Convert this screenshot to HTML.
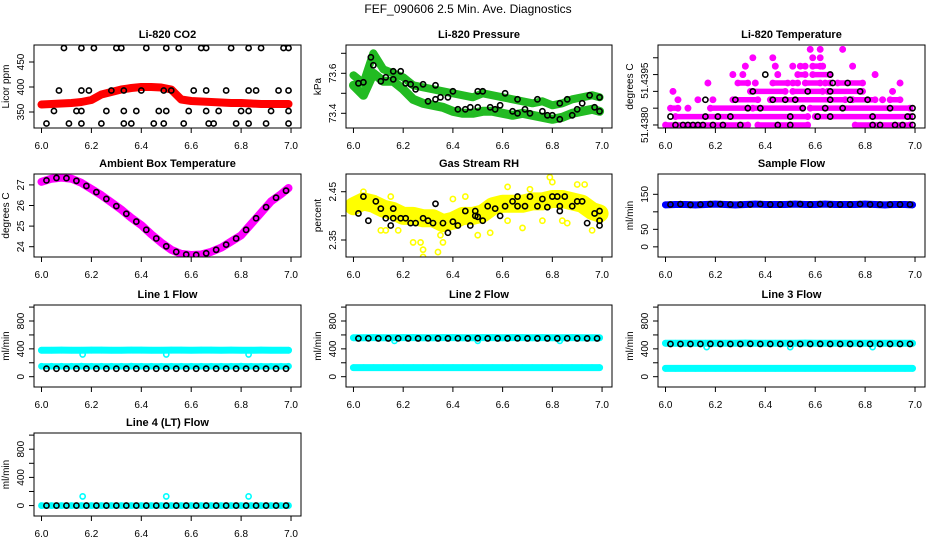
<!DOCTYPE html>
<html><head><meta charset="utf-8"><title>FEF_090606 Diagnostics</title>
<style>
html,body{margin:0;padding:0;background:#fff;}
svg{display:block;font-family:"Liberation Sans",sans-serif;}
</style></head>
<body>
<svg id="chart" width="936" height="540" viewBox="0 0 936 540" xmlns="http://www.w3.org/2000/svg">
<rect x="0" y="0" width="936" height="540" fill="#fff"/>
<text x="468" y="13" text-anchor="middle" font-size="12">FEF_090606  2.5 Min. Ave. Diagnostics</text>
</svg>
<script>
// ---------- data ----------
const tGrid = [6.00,6.04,6.08,6.12,6.16,6.20,6.24,6.28,6.32,6.36,6.40,6.44,6.48,6.52,6.56,6.60,6.64,6.68,6.72,6.76,6.80,6.84,6.88,6.92,6.96,6.99];
const tGrid2 = [6.02,6.06,6.10,6.14,6.18,6.22,6.26,6.30,6.34,6.38,6.42,6.46,6.50,6.54,6.58,6.62,6.66,6.70,6.74,6.78,6.82,6.86,6.90,6.94,6.98];
const xTicks = [6.0,6.2,6.4,6.6,6.8,7.0];
const xTickLabels = ["6.0","6.2","6.4","6.6","6.8","7.0"];

const co2Red = [365,366,367,368,370,374,385,390,395,398,400,400,399,395,375,372,371,370,369,368,368,367,366,366,366,366];
const co2BlackX = [6.09,6.16,6.21,6.30,6.32,6.42,6.50,6.55,6.64,6.66,6.76,6.83,6.88,6.97,6.99,
  6.07,6.16,6.19,6.28,6.33,6.40,6.49,6.52,6.61,6.66,6.74,6.83,6.86,6.95,6.99,
  6.05,6.14,6.16,6.26,6.33,6.38,6.47,6.50,6.59,6.66,6.71,6.80,6.83,6.92,6.99,
  6.02,6.11,6.16,6.24,6.33,6.36,6.45,6.49,6.57,6.67,6.69,6.78,6.83,6.90,6.99];
const co2BlackY = [478,478,478,478,478,478,478,478,478,478,478,478,478,478,478,
  393,393,393,393,393,393,393,393,393,393,393,393,393,393,393,
  352,352,352,352,352,352,352,352,352,352,352,352,352,352,352,
  327,327,327,327,327,327,327,327,327,327,327,327,327,327,327];

const pressUpper = [73.59,73.55,73.70,73.62,73.60,73.58,73.54,73.53,73.52,73.51,73.50,73.49,73.48,73.50,73.49,73.48,73.47,73.46,73.45,73.46,73.44,73.45,73.47,73.48,73.49,73.48];
const pressLower = [73.54,73.49,73.60,73.56,73.56,73.52,73.47,73.45,73.44,73.43,73.41,73.40,73.40,73.41,73.41,73.40,73.39,73.40,73.39,73.38,73.37,73.38,73.40,73.41,73.42,73.41];
const pressBlackX = [6.02,6.04,6.07,6.08,6.11,6.13,6.16,6.16,6.19,6.21,6.23,6.25,6.28,6.30,6.33,6.33,6.35,6.38,6.40,6.42,6.45,6.47,6.50,6.50,6.52,6.55,6.57,6.59,6.61,6.64,6.66,6.66,6.69,6.71,6.74,6.76,6.78,6.80,6.83,6.83,6.86,6.88,6.90,6.92,6.95,6.97,6.99,6.99];
const pressBlackY = [73.55,73.555,73.68,73.64,73.56,73.58,73.61,73.57,73.61,73.55,73.545,73.52,73.545,73.46,73.54,73.47,73.48,73.48,73.51,73.42,73.42,73.43,73.51,73.43,73.51,73.43,73.42,73.44,73.50,73.41,73.47,73.40,73.42,73.40,73.47,73.41,73.39,73.39,73.45,73.37,73.47,73.39,73.42,73.45,73.49,73.43,73.48,73.41];

const tempSegLevel = [0,0,0, 1,1, 2,2,2,2,2, 3,3,3,3,3,3,3,3, 4,4,4,4,4, 5,5,5,5,5,5,5,5,5, 6,6,6,6,6,6, 7,7,7,7,7,7,7, 8,8,8,8, 9,9,9];
const tempSegStart = [6.00,6.37,6.76, 6.04,6.60, 6.02,6.09,6.18,6.35,6.58, 6.05,6.13,6.19,6.27,6.42,6.75,6.87,6.90, 6.03,6.34,6.51,6.65,6.91, 6.17,6.29,6.36,6.43,6.51,6.56,6.64,6.69,6.94, 6.27,6.31,6.45,6.53,6.59,6.84, 6.32,6.44,6.51,6.54,6.59,6.63,6.75, 6.35,6.43,6.59,6.62, 6.58,6.62,6.71];
const tempSegEnd = [6.33,6.57,6.98, 6.57,6.98, 6.05,6.09,6.33,6.55,6.98, 6.05,6.13,6.19,6.37,6.72,6.84,6.87,6.94, 6.03,6.48,6.63,6.79,6.91, 6.17,6.33,6.36,6.49,6.53,6.62,6.66,6.79,6.94, 6.27,6.31,6.45,6.56,6.66,6.84, 6.32,6.44,6.51,6.56,6.62,6.63,6.75, 6.35,6.43,6.59,6.62, 6.58,6.62,6.71];
const tempBlackX = [6.04,6.07,6.09,6.11,6.13,6.15,6.19,6.23,6.30,6.45,6.50,6.83,6.86,6.92,6.95,6.99, 6.02,6.16,6.21,6.26,6.50,6.61,6.66,6.83,6.97,6.99, 6.33,6.38,6.55,6.64,6.71,6.90,6.99, 6.16,6.28,6.43,6.48,6.52,6.66,6.74,6.81, 6.35,6.57,6.66,6.78, 6.67,6.73, 6.40,6.66];
const tempBlackLevel = [0,0,0,0,0,0,0,0,0,0,0,0,0,0,0,0, 1,1,1,1,1,1,1,1,1,1, 2,2,2,2,2,2,2, 3,3,3,3,3,3,3,3, 4,4,4,4, 5,5, 6,6];
const tempBase = 51.4380, tempStep = 0.00025;

const ambMagenta = [27.15,27.3,27.35,27.3,27.1,26.8,26.5,26.15,25.8,25.4,25.05,24.6,24.2,23.85,23.65,23.6,23.62,23.75,23.95,24.25,24.55,25.1,25.65,26.2,26.55,26.85];
const ambBlack = [27.22,27.34,27.33,27.2,26.95,26.65,26.32,25.97,25.6,25.22,24.82,24.4,24.02,23.75,23.62,23.6,23.68,23.85,24.1,24.4,24.82,25.38,25.92,26.38,26.72];

const rhYellow = [2.42,2.43,2.425,2.415,2.41,2.40,2.40,2.395,2.395,2.385,2.39,2.40,2.40,2.405,2.42,2.425,2.425,2.425,2.43,2.43,2.435,2.435,2.43,2.425,2.41,2.405];
const rhOutX = [6.13,6.18,6.24,6.27,6.28,6.28,6.34,6.36,6.35,6.50,6.55,6.62,6.68,6.79,6.80,6.90,6.93,6.96,6.04,6.15,6.45,6.62,6.76,6.84,6.11,6.40,6.71,6.86];
const rhOutY = [2.37,2.37,2.345,2.345,2.33,2.315,2.325,2.345,2.36,2.36,2.365,2.39,2.375,2.48,2.47,2.465,2.465,2.37,2.45,2.44,2.44,2.46,2.39,2.39,2.37,2.435,2.455,2.385];
const rhBlackX = [6.02,6.04,6.06,6.09,6.11,6.13,6.15,6.16,6.16,6.19,6.21,6.23,6.25,6.28,6.30,6.32,6.33,6.36,6.38,6.40,6.42,6.45,6.47,6.49,6.49,6.50,6.52,6.54,6.57,6.59,6.61,6.64,6.66,6.66,6.69,6.71,6.74,6.76,6.78,6.80,6.82,6.83,6.83,6.85,6.88,6.90,6.92,6.94,6.97,6.99,6.99,6.99];
const rhBlackY = [2.405,2.44,2.39,2.43,2.415,2.395,2.38,2.395,2.415,2.395,2.395,2.385,2.385,2.395,2.39,2.385,2.425,2.385,2.365,2.388,2.38,2.41,2.38,2.41,2.40,2.398,2.39,2.42,2.415,2.40,2.42,2.43,2.42,2.44,2.42,2.44,2.42,2.435,2.418,2.44,2.44,2.42,2.41,2.44,2.42,2.43,2.43,2.385,2.405,2.41,2.38,2.39];

const sampleBlue = [120,121,121,120,121,122,121,120,121,122,121,121,121,122,121,121,122,121,121,121,122,121,120,121,121,120];
const sampleBlack = [121,122,120,121,122,122,121,121,121,122,121,121,122,122,121,122,121,121,121,122,121,121,121,121,121];

const line1Upper = [380,380,381,380,380,381,381,380,380,382,381,380,380,381,381,380,381,381,380,381,380,380,381,380,380,380];
const line1Lower = [150,150,150,150,151,150,150,150,150,151,150,150,150,150,150,150,150,150,150,150,151,150,150,150,150,150];
const line1Black = [115,115,115,115,116,115,115,115,116,115,115,115,116,115,115,115,116,115,115,115,116,115,115,115,115];
const line1DipX = [6.165,6.50,6.83];
const line1DipY = [320,320,320];

const line2Upper = [560,560,561,560,560,561,562,560,560,561,561,560,560,561,561,560,561,561,560,561,560,560,561,560,560,560];
const line2Lower = [130,130,130,130,130,130,130,130,130,130,130,130,130,130,130,130,130,130,130,130,130,130,130,130,130,130];
const line2Black = [550,551,550,550,551,550,550,551,550,550,551,550,552,550,550,550,551,550,550,550,550,551,550,550,550];
const line2DipX = [6.165,6.50,6.83];
const line2DipY = [515,515,515];

const line3Upper = [480,480,481,480,480,481,481,480,482,481,481,480,481,481,482,481,481,481,480,481,480,480,481,480,480,480];
const line3Lower = [120,120,120,120,120,120,120,120,120,120,120,120,120,120,120,120,120,120,120,120,120,120,120,120,120,120];
const line3Black = [470,470,470,470,471,470,470,470,472,470,470,470,471,470,470,471,470,470,470,470,470,470,470,470,470];
const line3DipX = [6.165,6.50,6.83];
const line3DipY = [425,425,425];

const line4Cyan = [0,0,0,0,0,0,0,0,0,0,0,0,0,0,0,0,0,0,0,0,0,0,0,0,0,0];
const line4Black = [0,0,0,0,0,0,0,0,0,0,0,0,0,0,0,0,0,0,0,0,0,0,0,0,0];
const line4OutX = [6.165,6.50,6.83];
const line4OutY = [130,130,130];

// axis limits & ticks
const co2Lim = [318,484], co2Ticks=[350,400,450], co2Labels=["350","400","450"];
const pressLim = [73.3265,73.7415], pressTicks=[73.4,73.5,73.6,73.7], pressLabels=["73.4","","73.6",""];
const tempLim = [51.43791,51.44038], tempTicks=[51.4380,51.4385,51.4390,51.4395,51.4400];
const ambLim = [23.5,27.53], ambTicks=[24,25,26,27], ambLabels=["24","25","26","27"];
const rhLim = [2.3148,2.4867], rhTicks=[2.35,2.40,2.45], rhLabels=["2.35","","2.45"];
const sampleLim = [-29,208], sampleTicks=[0,50,100,150], sampleLabels=["0","50","","150"];
const flowLim = [-148,1030], flowTicks=[0,200,400,600,800,1000], flowLabels=["0","","400","","800",""];

// ---------- drawing ----------
const NS="http://www.w3.org/2000/svg";
const svg=document.getElementById('chart');
const colL=[34,346,658], colR=[301,612,925], rowT=[45,174,305,433], rowB=[128,257,387,516];

function mk(tag,parent){const e=document.createElementNS(NS,tag);parent.appendChild(e);return e;}

function makePanel(col,row,title,ylab,lim,name){
  const L=colL[col],R=colR[col],T=rowT[row],B=rowB[row];
  const g=mk('g',svg);
  
  
  const p={g,L,R,T,B,
    x:v=>L+(R-L)*(v-5.97)/1.07,
    y:v=>B-(B-T)*(v-lim[0])/(lim[1]-lim[0])};
  const clip=mk('clipPath',g);clip.setAttribute('id','clip-'+name);
  const cr=mk('rect',clip);cr.setAttribute('x',L);cr.setAttribute('y',T);cr.setAttribute('width',R-L);cr.setAttribute('height',B-T);
  p.marks=mk('g',g);
  p.marks.setAttribute('clip-path','url(#clip-'+name+')');
  
  
  const t=mk('text',g);
  
  
  t.setAttribute('x',(L+R)/2);t.setAttribute('y',T-7);t.setAttribute('text-anchor','middle');
  t.setAttribute('font-size','11');t.setAttribute('font-weight','bold');t.textContent=title;
  const yl=mk('text',g);
  
  
  yl.setAttribute('transform','translate('+(L-25)+','+((T+B)/2)+') rotate(-90)');
  yl.setAttribute('text-anchor','middle');yl.setAttribute('font-size','10');yl.textContent=ylab;
  const xa=mk('g',g);
  
  
  const al=mk('line',xa);al.setAttribute('x1',p.x(6));al.setAttribute('x2',p.x(7));al.setAttribute('y1',B);al.setAttribute('y2',B);al.setAttribute('stroke','#000');
  xTicks.forEach((v,i)=>{
    const tk=mk('line',xa);tk.setAttribute('x1',p.x(v));tk.setAttribute('x2',p.x(v));tk.setAttribute('y1',B);tk.setAttribute('y2',B+5);tk.setAttribute('stroke','#000');
    const tl=mk('text',xa);
    
    
    tl.setAttribute('x',p.x(v));tl.setAttribute('y',B+21);tl.setAttribute('text-anchor','middle');tl.setAttribute('font-size','10');tl.textContent=xTickLabels[i];
  });
  const bx=mk('rect',g);
  
  
  bx.setAttribute('x',L);bx.setAttribute('y',T);bx.setAttribute('width',R-L);bx.setAttribute('height',B-T);bx.setAttribute('fill','none');bx.setAttribute('stroke','#000');
  return p;
}
function yAxis(p,ticks,labels,name){
  const ya=mk('g',p.g);
  
  
  const al=mk('line',ya);al.setAttribute('x1',p.L);al.setAttribute('x2',p.L);al.setAttribute('y1',p.y(ticks[0]));al.setAttribute('y2',p.y(ticks[ticks.length-1]));al.setAttribute('stroke','#000');
  ticks.forEach((v,i)=>{
    const tk=mk('line',ya);tk.setAttribute('x1',p.L-5);tk.setAttribute('x2',p.L);tk.setAttribute('y1',p.y(v));tk.setAttribute('y2',p.y(v));tk.setAttribute('stroke','#000');
    if(labels&&labels[i]){
      const tl=mk('text',ya);
      
      
      tl.setAttribute('transform','translate('+(p.L-10)+','+p.y(v)+') rotate(-90)');
      tl.setAttribute('text-anchor','middle');tl.setAttribute('font-size','10');tl.textContent=labels[i];
    }
  });
  return ya;
}
function dot(p,x,y,color,name,r,sw){
  const c=mk('circle',p.marks);
  
  
  c.setAttribute('cx',p.x(x));c.setAttribute('cy',p.y(y));c.setAttribute('r',r||2.6);
  c.setAttribute('fill','none');c.setAttribute('stroke',color);c.setAttribute('stroke-width',sw||1.6);
}
function band(p,xs,ys,color,width,name){
  const pl=mk('polyline',p.marks);
  
  
  pl.setAttribute('points',xs.map((x,i)=>p.x(x)+','+p.y(ys[i])).join(' '));
  pl.setAttribute('fill','none');pl.setAttribute('stroke',color);pl.setAttribute('stroke-width',width);
  pl.setAttribute('stroke-linejoin','round');pl.setAttribute('stroke-linecap','round');
  xs.forEach((x,i)=>dot(p,x,ys[i],color,name+'-point'));
}
function dots(p,xs,ys,color,name){xs.forEach((x,i)=>dot(p,x,ys[i],color,name));}

// CO2
let p=makePanel(0,0,'Li-820 CO2','Licor ppm',co2Lim,'co2');
yAxis(p,co2Ticks,co2Labels,'co2');
band(p,tGrid,co2Red,'#ff0000',8,'co2-red-series');
dots(p,co2BlackX,co2BlackY,'#000','co2-black-point');

// Pressure
p=makePanel(1,0,'Li-820 Pressure','kPa',pressLim,'pressure');
yAxis(p,pressTicks,pressLabels,'pressure');
band(p,tGrid,pressUpper,'#22bb22',8,'pressure-upper-series');
band(p,tGrid,pressLower,'#22bb22',9,'pressure-lower-series');
dots(p,pressBlackX,pressBlackY,'#000','pressure-black-point');

// Temperature
p=makePanel(2,0,'Li-820 Temperature','degrees C',tempLim,'li820-temp');
const ta=yAxis(p,tempTicks,null,'li820-temp');
[["51.4380",51.4380],["51.4395",51.43932]].forEach(a=>{
  const tl=mk('text',ta);
  
  
  tl.setAttribute('transform','translate('+(p.L-10)+','+p.y(a[1])+') rotate(-90)');
  tl.setAttribute('text-anchor','middle');tl.setAttribute('font-size','10');tl.textContent=a[0];
});
tempSegLevel.forEach((lv,i)=>{
  const v=tempBase+lv*tempStep;
  band(p,[tempSegStart[i],tempSegEnd[i]],[v,v],'#ff00ff',5.5,'li820-temp-magenta-run');
});
tempBlackX.forEach((x,i)=>dot(p,x,tempBase+tempBlackLevel[i]*tempStep,'#000','li820-temp-black-point'));

// Ambient
p=makePanel(0,1,'Ambient Box Temperature','degrees C',ambLim,'ambient');
yAxis(p,ambTicks,ambLabels,'ambient');
band(p,tGrid,ambMagenta,'#ff00ff',8,'ambient-magenta-series');
dots(p,tGrid2,ambBlack,'#000','ambient-black-point');

// RH
p=makePanel(1,1,'Gas Stream RH','percent',rhLim,'rh');
yAxis(p,rhTicks,rhLabels,'rh');
band(p,tGrid,rhYellow,'#ffff00',18,'rh-yellow-series');
dots(p,rhOutX,rhOutY,'#ffff00','rh-yellow-point');
dots(p,rhBlackX,rhBlackY,'#000','rh-black-point');

// Sample flow
p=makePanel(2,1,'Sample Flow','ml/min',sampleLim,'sample-flow');
yAxis(p,sampleTicks,sampleLabels,'sample-flow');
band(p,tGrid,sampleBlue,'#0000ff',7,'sample-flow-blue-series');
dots(p,tGrid2,sampleBlack,'#000','sample-flow-black-point');

// Line 1
p=makePanel(0,2,'Line 1 Flow','ml/min',flowLim,'line1');
yAxis(p,flowTicks,flowLabels,'line1');
band(p,tGrid,line1Upper,'#00ffff',7,'line1-cyan-upper');
band(p,tGrid,line1Lower,'#00ffff',6,'line1-cyan-lower');
dots(p,line1DipX,line1DipY,'#00ffff','line1-cyan-dip');
dots(p,tGrid2,line1Black,'#000','line1-black-point');

// Line 2
p=makePanel(1,2,'Line 2 Flow','ml/min',flowLim,'line2');
yAxis(p,flowTicks,flowLabels,'line2');
band(p,tGrid,line2Upper,'#00ffff',7,'line2-cyan-upper');
band(p,tGrid,line2Lower,'#00ffff',7,'line2-cyan-lower');
dots(p,line2DipX,line2DipY,'#00ffff','line2-cyan-dip');
dots(p,tGrid2,line2Black,'#000','line2-black-point');

// Line 3
p=makePanel(2,2,'Line 3 Flow','ml/min',flowLim,'line3');
yAxis(p,flowTicks,flowLabels,'line3');
band(p,tGrid,line3Upper,'#00ffff',7,'line3-cyan-upper');
band(p,tGrid,line3Lower,'#00ffff',7,'line3-cyan-lower');
dots(p,line3DipX,line3DipY,'#00ffff','line3-cyan-dip');
dots(p,tGrid2,line3Black,'#000','line3-black-point');

// Line 4
p=makePanel(0,3,'Line 4 (LT) Flow','ml/min',flowLim,'line4');
yAxis(p,flowTicks,flowLabels,'line4');
band(p,tGrid,line4Cyan,'#00ffff',6,'line4-cyan-series');
dots(p,line4OutX,line4OutY,'#00ffff','line4-cyan-outlier');
dots(p,tGrid2,line4Black,'#000','line4-black-point');
</script>
</body></html>
